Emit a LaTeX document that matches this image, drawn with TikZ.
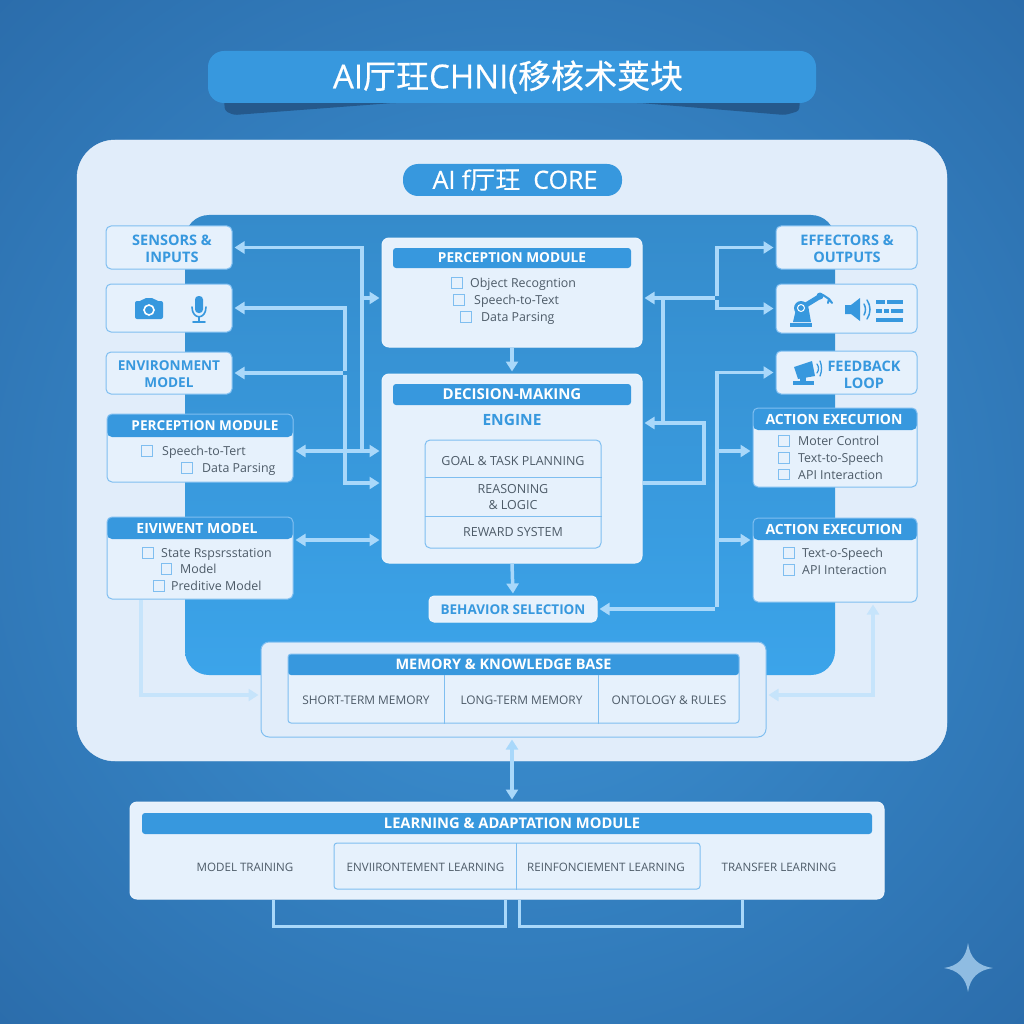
\documentclass[tikz,border=0pt]{standalone}
\usepackage{fontspec}
\setmainfont{Open Sans}
\newfontfamily\titlef[FakeBold=0.5]{Open Sans}
\newfontfamily\cjkf[FakeBold=0.5]{Noto Sans CJK SC}
\usetikzlibrary{arrows.meta,positioning,calc,backgrounds}
\definecolor{mDeep}{HTML}{2968A6}
\definecolor{mMid}{HTML}{3E96D8}
\definecolor{mPanel}{HTML}{E1EDFA}
\definecolor{mCard}{HTML}{E6F1FC}
\definecolor{mHead}{HTML}{3798DE}
\definecolor{mCoreTop}{HTML}{358BCB}
\definecolor{mCoreLow}{HTML}{3BA4EA}
\definecolor{mLine}{HTML}{7FBEF0}
\definecolor{mArrow}{HTML}{A9D8FA}
\definecolor{mPale}{HTML}{C6E4FB}
\definecolor{mInk}{HTML}{4D5B68}
\definecolor{mShadow}{HTML}{25598C}
\definecolor{mStar}{HTML}{8FBCE2}
\tikzset{
  >={Triangle[width=12pt,length=10pt]},
  wh/.style 2 args={minimum width=#1pt,minimum height=#2pt,inner sep=0pt},
  card/.style ={rectangle,rounded corners=5pt,fill=mCard,draw=mLine,line width=1pt,align=center,text=mHead},
  plate/.style={rectangle,rounded corners=7pt,fill=mCard,draw=mCard!70!white,line width=1pt},
  modbox/.style={card,path picture={\fill[mHead] (path picture bounding box.north west) rectangle ($(path picture bounding box.north east)+(0,#1)$);}},
  bar/.style  ={rectangle,rounded corners=3pt,fill=mHead,text=white,align=center,font=\fontsize{13.7}{17}\selectfont\bfseries},
  headtxt/.style={text=white,anchor=mid,yshift=-2pt,font=\fontsize{14}{17}\selectfont\bfseries},
  skytxt/.style={text=mHead,align=center,yshift=-1pt,font=\fontsize{14.5}{17}\selectfont\bfseries},
  item/.style ={text=mInk,anchor=mid west,yshift=-2pt,inner sep=0pt,font=\fontsize{12.4}{14}\selectfont},
  cell/.style ={text=mInk,anchor=mid,yshift=-2pt,align=center,inner sep=0pt,font=\fontsize{12.5}{16}\selectfont},
  chk/.style  ={rectangle,draw=mLine,line width=1pt,fill=mCard,minimum size=10.5pt,inner sep=0pt},
  rel/.style  ={line width=3.5pt,mArrow,shorten >=2pt,shorten <=2pt},
  relp/.style ={line width=3.5pt,mPale,shorten >=2pt,shorten <=2pt},
  rule/.style ={line width=1pt,mLine},
  brk/.style  ={line width=3pt,mArrow},
  ico/.style  ={fill=mHead,draw=none},
  icol/.style ={draw=mHead,line width=2pt,line cap=round},
}
\begin{document}
\begin{tikzpicture}[x=1pt,y=-1pt]
  \useasboundingbox (0,0) rectangle (1024,1024);
  \begin{scope}
    \clip (0,0) rectangle (1024,1024);
    \shade[inner color=mMid,outer color=mDeep,shading=radial] (-300,-300) rectangle (1324,1324);
  \end{scope}

  \fill[mShadow,rounded corners=3pt] (224,100) -- (225,111) -- (234,115) -- (393,103) -- (640,103) -- (785,115) -- (799,111) -- (800,100) -- cycle;
  \node[rectangle,rounded corners=16pt,fill=mHead,wh={608}{52}] (title) at (512,77) {};
  \node[text=white,font=\fontsize{33}{38}\selectfont\titlef] (titletxt) at (508,77) {AI{\cjkf 厅玨}CHNI({\cjkf 移核术荚块}};

  \node[rectangle,rounded corners=38pt,fill=mPanel,draw=mPanel!60!white,wh={870}{621}] (panel) at (512,450.5) {};
  \node[rectangle,rounded corners=24pt,top color=mCoreTop,bottom color=mCoreLow,wh={650}{460}] (core) at (510,445) {};
  \node[rectangle,rounded corners=15pt,fill=mHead,wh={219}{32}] (pill) at (512.5,180) {};
  \node[text=white,font=\fontsize{25}{28}\selectfont\titlef] (pilltxt) at (515,180) {AI f{\cjkf 厅玨}\ \ CORE};

  \node[card,wh={126}{43}] (sensors) at (169,247.5) {};
  \node[skytxt] (sensorstxt) at (172,248) {SENSORS \&\\INPUTS};
  \node[card,wh={126}{48}] (camera) at (169,308) {};
  \node[card,wh={126}{42}] (envm) at (169,373) {};
  \node[skytxt,font=\fontsize{13.6}{17}\selectfont\bfseries] (envmtxt) at (169,373.5) {ENVIRONMENT\\MODEL};

  \node[modbox=23,wh={186}{68}] (percL) at (200,448) {};
  \node[headtxt,font=\fontsize{13.6}{17}\selectfont\bfseries] (percLtxt) at (205,426) {PERCEPTION MODULE};
  \node[chk] (pl1) at (147,451) {};
  \node[item] (pl1t) at (162,451) {Speech-to-Tert};
  \node[chk] (pl2) at (187,468) {};
  \node[item] (pl2t) at (202,468) {Data Parsing};

  \node[modbox=22,wh={186}{82}] (envL) at (200,558) {};
  \node[headtxt] (envLtxt) at (197,528.5) {EIVIWENT MODEL};
  \node[chk] (el1) at (148,553) {};
  \node[item] (el1t) at (161,553) {State Rspsrsstation};
  \node[chk] (el2) at (166.5,569) {};
  \node[item] (el2t) at (180,569) {Model};
  \node[chk] (el3) at (159,586) {};
  \node[item] (el3t) at (171,586) {Preditive Model};

  \node[plate,wh={260}{109}] (percep) at (512,292.5) {};
  \node[bar,wh={238}{20}] (percepbar) at (512,258) {PERCEPTION MODULE};
  \node[chk] (pc1) at (457,283) {};
  \node[item] (pc1t) at (470,283) {Object Recogntion};
  \node[chk] (pc2) at (459,300) {};
  \node[item] (pc2t) at (474,300) {Speech-to-Text};
  \node[chk] (pc3) at (466,317) {};
  \node[item] (pc3t) at (481,317) {Data Parsing};

  \node[plate,wh={260}{189}] (decision) at (512,468.5) {};
  \node[bar,wh={238}{21},font=\fontsize{15}{19}\selectfont\bfseries] (decisionbar) at (512,394.5) {DECISION-MAKING};
  \node[skytxt,font=\fontsize{15.5}{19}\selectfont\bfseries] (enginetxt) at (512,419) {ENGINE};
  \node[card,wh={176}{108}] (tbl) at (513,494) {};
  \coordinate (dA) at (425,477);
  \coordinate (dB) at (425,516);
  \draw[rule] (dA) -- (dA -| tbl.east);
  \draw[rule] (dB) -- (dB -| tbl.east);
  \node[cell] (goal) at (513,460.5) {GOAL \& TASK PLANNING};
  \node[cell,anchor=center,yshift=1.5pt] (reason) at (513,497) {REASONING\\\& LOGIC};
  \node[cell] (reward) at (513,531.5) {REWARD SYSTEM};
  \node[plate,rounded corners=5pt,wh={168}{26}] (behav) at (513,609) {};
  \node[skytxt,font=\fontsize{13.5}{17}\selectfont\bfseries] (behavtxt) at (513,609) {BEHAVIOR SELECTION};

  \node[card,wh={141}{43}] (effect) at (846.5,247.5) {};
  \node[skytxt] (effecttxt) at (847,248) {EFFECTORS \&\\OUTPUTS};
  \node[card,wh={141}{49}] (iconR) at (846.5,308.5) {};
  \node[card,wh={141}{43}] (feedb) at (846.5,372.5) {};
  \node[skytxt] (feedbtxt) at (864,374) {FEEDBACK\\LOOP\hspace{14pt}};

  \node[modbox=22,wh={164}{79}] (act1) at (835,447.5) {};
  \node[headtxt] (act1txt) at (834,419.5) {ACTION EXECUTION};
  \node[chk] (a1a) at (784,441) {};
  \node[item] (a1at) at (798,441) {Moter Control};
  \node[chk] (a1b) at (784,458) {};
  \node[item] (a1bt) at (798,458) {Text-to-Speech};
  \node[chk] (a1c) at (784,474.5) {};
  \node[item] (a1ct) at (798,474.5) {API Interaction};

  \node[modbox=22,wh={164}{84}] (act2) at (835,560) {};
  \node[headtxt] (act2txt) at (834,530) {ACTION EXECUTION};
  \node[chk] (a2a) at (789,553) {};
  \node[item] (a2at) at (802,553) {Text-o-Speech};
  \node[chk] (a2b) at (789,570) {};
  \node[item] (a2bt) at (802,570) {API Interaction};

  \node[card,fill=mPanel,wh={505}{95},rounded corners=8pt] (memory) at (513.5,689.5) {};
  \node[modbox=21,wh={451}{69},rounded corners=3pt] (memt) at (513.5,688.5) {};
  \node[headtxt,font=\fontsize{14.5}{17}\selectfont\bfseries] (memtxt) at (503.5,665) {MEMORY \& KNOWLEDGE BASE};
  \coordinate (mA) at (444,675);
  \coordinate (mB) at (598,675);
  \draw[rule] (mA) -- (mA |- memt.south);
  \draw[rule] (mB) -- (mB |- memt.south);
  \node[cell,font=\fontsize{11.9}{16}\selectfont] (mem1) at (366,700) {SHORT-TERM MEMORY};
  \node[cell,font=\fontsize{11.9}{16}\selectfont] (mem2) at (521.5,700) {LONG-TERM MEMORY};
  \node[cell,font=\fontsize{11.9}{16}\selectfont] (mem3) at (669,700) {ONTOLOGY \& RULES};

  \node[plate,wh={754}{97}] (learn) at (507,850.5) {};
  \node[bar,wh={730}{21},font=\fontsize{14.7}{17}\selectfont\bfseries] (learnbar) at (507,823.5) {\hspace{10pt}LEARNING \& ADAPTATION MODULE};
  \node[card,wh={366}{46},rounded corners=3pt] (learnt) at (517,866) {};
  \coordinate (nA) at (516,843);
  \draw[rule] (nA) -- (nA |- learnt.south);
  \node[cell,font=\fontsize{11.6}{16}\selectfont] (ln1) at (245,867) {MODEL TRAINING};
  \node[cell,font=\fontsize{11.6}{16}\selectfont] (ln2) at (425.5,867) {ENVIIRONTEMENT LEARNING};
  \node[cell,font=\fontsize{11.6}{16}\selectfont] (ln3) at (606,867) {REINFONCIEMENT LEARNING};
  \node[cell,font=\fontsize{11.6}{16}\selectfont] (ln4) at (779,867) {TRANSFER LEARNING};

  \coordinate (lA) at (362,451);
  \coordinate (lB) at (345,373);
  \coordinate (lC) at (362,298);
  \coordinate (lD) at (345,483);
  \coordinate (lF) at (345,540);
  \draw[rel,->] (lA) |- (sensors.east);
  \draw[rel,->] (lC) -- (lC -| percep.west);
  \draw[rel,->] (lB) |- (camera.east);
  \draw[rel,->] (lB) -- (envm.east);
  \draw[rel,->] (lB) -- (lD) -- (lD -| decision.west);
  \draw[rel,<->] (lA -| percL.east) -- (lA -| decision.west);
  \draw[rel,<->] (lF -| envL.east) -- (lF -| decision.west);

  \draw[rel,->,shorten <=0pt] (percep.south) -- (decision.north);
  \draw[rel,->,shorten <=0pt] (decision.south) -- (behav.north);

  \coordinate (rA) at (717,609);
  \coordinate (rB) at (717,451);
  \coordinate (rC) at (717,540);
  \coordinate (rD) at (717,298);
  \coordinate (rE) at (663,298);
  \coordinate (rF) at (663,423);
  \coordinate (rG) at (704,483);
  \coordinate (rH) at (704,423);
  \draw[rel,->] (rA) -- (behav.east);
  \draw[rel,->] (rA) |- (feedb.west);
  \draw[rel,->] (rB) -- (rB -| act1.west);
  \draw[rel,->] (rC) -- (rC -| act2.west);
  \draw[rel,->] (rD) -- (rD -| percep.east);
  \draw[rel,->] (rD) |- (effect.west);
  \draw[rel,->] (rD) |- (iconR.west);
  \draw[rel,shorten <=0pt,shorten >=0pt] (rE) -- (rF);
  \draw[rel,->,shorten <=0pt] (rG -| decision.east) -- (rG) -- (rH) -- (rH -| decision.east);

  \coordinate (lG) at (141,695);
  \coordinate (rJ) at (873,695);
  \coordinate (mC) at (512,770);
  \draw[relp,->,shorten <=0pt] (lG |- envL.south) -- (lG) -- (lG -| memory.west);
  \draw[relp,<->] (rJ |- act2.south) -- (rJ) -- (rJ -| memory.east);
  \draw[rel,<->] (mC |- memory.south) -- (mC |- learn.north);

  \coordinate (bA) at (273,926);
  \coordinate (bB) at (505,926);
  \coordinate (bC) at (519,926);
  \coordinate (bD) at (742,926);
  \draw[brk] (bA |- learn.south) -- (bA) -- (bB) -- (bB |- learn.south);
  \draw[brk] (bC |- learn.south) -- (bC) -- (bD) -- (bD |- learn.south);

  % icons
  \fill[ico,rounded corners=2pt] (135,301) -- (142,301) -- (144,298) -- (154,298) -- (156,301) -- (163,301) -- (163,319) -- (135,319) -- cycle;
  \draw[white,line width=1.6pt] (149,310) circle (5);
  \fill[ico,rounded corners=3.5pt] (195,296) rectangle (203,313);
  \draw[icol,line width=1.6pt] (192,307) .. controls (192,320) and (206,320) .. (206,307);
  \draw[icol,line width=1.6pt] (199,317) -- (199,322) (193,322) -- (205,322);

  \fill[ico] (790,323) rectangle (812,327);
  \fill[ico] (793,322) -- (797,305) -- (808,305) -- (811,322) -- cycle;
  \draw[icol,line width=5pt,line cap=butt] (801,308) -- (819,297);
  \fill[ico] (801,308) circle (7);
  \draw[white,line width=1pt] (801,308) circle (3.5);
  \fill[ico] (820,296) circle (3.5);
  \draw[icol] (823,295) -- (829,299) (829,299) -- (828,303) (829,299) -- (832,303);
  \fill[ico] (845,305) -- (851,305) -- (860,298) -- (860,321) -- (851,314) -- (845,314) -- cycle;
  \draw[icol,line width=1.5pt] (864,304) .. controls (866,308) and (866,311) .. (864,315);
  \draw[icol,line width=1.5pt] (867,300) .. controls (871,306) and (871,313) .. (867,319);
  \draw[icol,line width=3.5pt,dash pattern=on 9pt off 2pt on 16pt off 0pt,line cap=butt] (876,302) -- (903,302);
  \draw[icol,line width=3.5pt,dash pattern=on 6pt off 2pt on 5pt off 2pt on 12pt off 0pt,line cap=butt] (876,311) -- (903,311);
  \draw[icol,line width=3.5pt,line cap=butt] (876,320) -- (903,320);
  \fill[ico] (794,367) -- (812,361) -- (815,376) -- (798,379) -- cycle;
  \fill[ico] (793,381) rectangle (814,385);
  \fill[ico] (800,377) rectangle (806,382);
  \draw[icol,line width=1.3pt] (817,364) .. controls (819,367) and (819,370) .. (817,373);
  \draw[icol,line width=1.3pt] (820,361) .. controls (822,366) and (822,371) .. (820,376);

  \fill[mStar] (968,943) .. controls (970,958) and (978,966) .. (993,968) .. controls (978,970) and (970,978) .. (968,992) .. controls (966,978) and (958,970) .. (944,968) .. controls (958,966) and (966,958) .. (968,943) -- cycle;
\end{tikzpicture}
\end{document}
